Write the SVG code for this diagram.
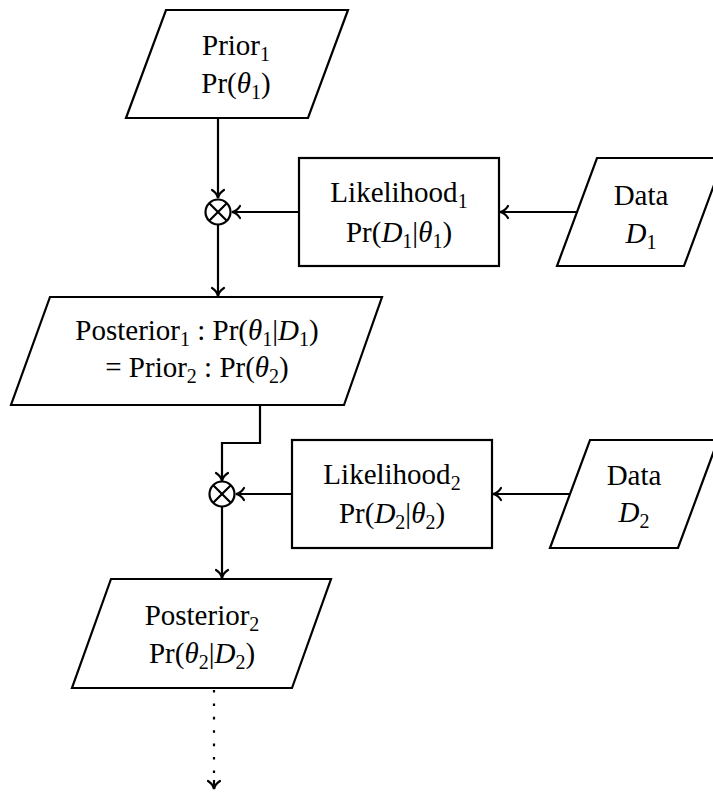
<svg xmlns="http://www.w3.org/2000/svg" width="713" height="793" viewBox="0 0 713 793">
<style>
.shape{fill:#fff;stroke:#000;stroke-width:2.2;stroke-linejoin:miter}
.conn{fill:none;stroke:#000;stroke-width:2.2}
.t{font-family:'Liberation Serif','Times New Roman',serif;font-size:29px;text-anchor:middle;fill:#000}
.i{font-style:italic}
.s{font-size:20px}
</style>
<defs>
<marker id="arr" markerUnits="userSpaceOnUse" markerWidth="20" markerHeight="20" viewBox="-12 -10 14 20" refX="0" refY="0" orient="auto">
<path d="M-8,-6 C-6,-2.5 -2.5,-0.6 0,0 C-2.5,0.6 -6,2.5 -8,6" fill="none" stroke="#000" stroke-width="2.2" stroke-linecap="round"/>
</marker>
</defs>
<rect width="713" height="793" fill="#fff"/>
<g id="connectors">
<path class="conn" d="M218,118 V198" marker-end="url(#arr)"/>
<path class="conn" d="M299,212 H232" marker-end="url(#arr)"/>
<path class="conn" d="M577,212 H500" marker-end="url(#arr)"/>
<path class="conn" d="M218,225 V296" marker-end="url(#arr)"/>
<path class="conn" d="M260,405 V443 H222 V481" marker-end="url(#arr)"/>
<path class="conn" d="M292,494 H236" marker-end="url(#arr)"/>
<path class="conn" d="M569,494 H493" marker-end="url(#arr)"/>
<path class="conn" d="M222,507 V578" marker-end="url(#arr)"/>
<path class="conn" d="M214,690 V778" stroke-width="2.6" stroke-dasharray="2.6 10.8"/>
<path class="conn" d="M214,780 V789" marker-end="url(#arr)" stroke="none"/>
</g>
<g id="prior1">
<polygon class="shape" points="166,10 348,10 308,118 126,118"/>
<text class="t" x="236" y="55">Prior<tspan class="s" dy="6">1</tspan></text>
<text class="t" x="236" y="93">Pr(<tspan class="i">θ</tspan><tspan class="s" dy="6">1</tspan><tspan dy="-6">)</tspan></text>
</g>
<g id="otimes1">
<circle class="shape" cx="218" cy="212" r="12.5"/>
<path class="conn" d="M209.2,203.2 L226.8,220.8 M226.8,203.2 L209.2,220.8"/>
</g>
<g id="likelihood1">
<rect class="shape" x="299" y="158" width="200" height="108"/>
<text class="t" x="399" y="202">Likelihood<tspan class="s" dy="6">1</tspan></text>
<text class="t" x="399" y="242">Pr(<tspan class="i">D</tspan><tspan class="s" dy="6">1</tspan><tspan dy="-6">|</tspan><tspan class="i">θ</tspan><tspan class="s" dy="6">1</tspan><tspan dy="-6">)</tspan></text>
</g>
<g id="data1">
<polygon class="shape" points="597,158 724,158 684,266 557,266"/>
<text class="t" x="641" y="205">Data</text>
<text class="t" x="641" y="243"><tspan class="i">D</tspan><tspan class="s" dy="6">1</tspan></text>
</g>
<g id="posterior1">
<polygon class="shape" points="50,297 382,297 344,405 11,405"/>
<text class="t" x="197" y="340">Posterior<tspan class="s" dy="6">1</tspan><tspan dy="-6"> : Pr(</tspan><tspan class="i">θ</tspan><tspan class="s" dy="6">1</tspan><tspan dy="-6">|</tspan><tspan class="i">D</tspan><tspan class="s" dy="6">1</tspan><tspan dy="-6">)</tspan></text>
<text class="t" x="197" y="377">= Prior<tspan class="s" dy="6">2</tspan><tspan dy="-6"> : Pr(</tspan><tspan class="i">θ</tspan><tspan class="s" dy="6">2</tspan><tspan dy="-6">)</tspan></text>
</g>
<g id="otimes2">
<circle class="shape" cx="222" cy="494" r="12.5"/>
<path class="conn" d="M213.2,485.2 L230.8,502.8 M230.8,485.2 L213.2,502.8"/>
</g>
<g id="likelihood2">
<rect class="shape" x="292" y="440" width="200" height="108"/>
<text class="t" x="392" y="484">Likelihood<tspan class="s" dy="6">2</tspan></text>
<text class="t" x="392" y="523">Pr(<tspan class="i">D</tspan><tspan class="s" dy="6">2</tspan><tspan dy="-6">|</tspan><tspan class="i">θ</tspan><tspan class="s" dy="6">2</tspan><tspan dy="-6">)</tspan></text>
</g>
<g id="data2">
<polygon class="shape" points="590,440 718,440 678,548 550,548"/>
<text class="t" x="634" y="485">Data</text>
<text class="t" x="634" y="522"><tspan class="i">D</tspan><tspan class="s" dy="6">2</tspan></text>
</g>
<g id="posterior2">
<polygon class="shape" points="111,579 331,579 292,688 72,688"/>
<text class="t" x="202" y="625">Posterior<tspan class="s" dy="6">2</tspan></text>
<text class="t" x="202" y="663">Pr(<tspan class="i">θ</tspan><tspan class="s" dy="6">2</tspan><tspan dy="-6">|</tspan><tspan class="i">D</tspan><tspan class="s" dy="6">2</tspan><tspan dy="-6">)</tspan></text>
</g>
</svg>
